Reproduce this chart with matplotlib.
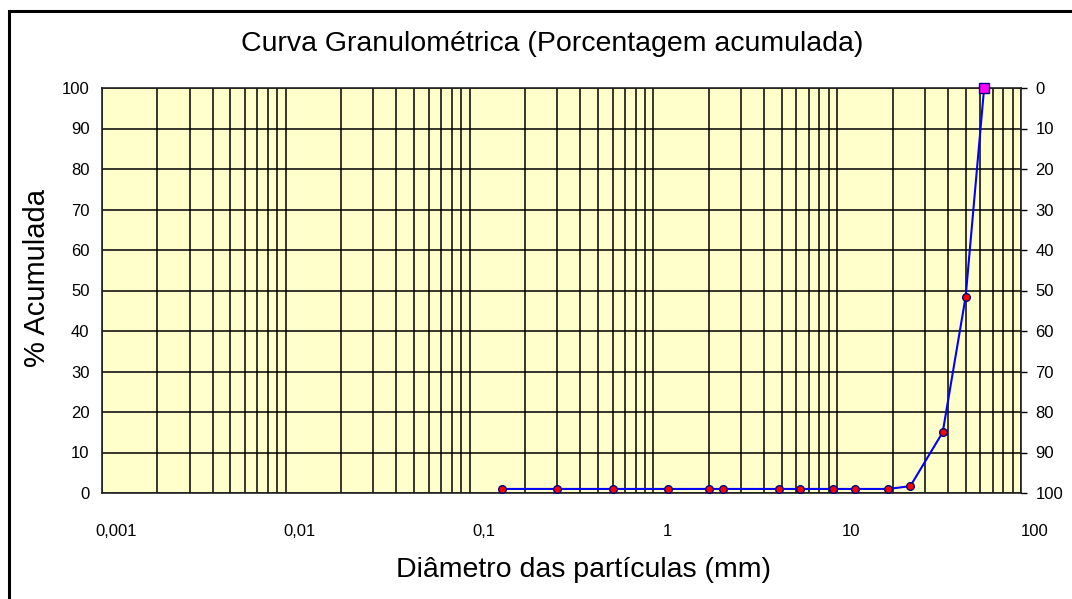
import numpy as np
import matplotlib
matplotlib.use("Agg")
import matplotlib.pyplot as plt
import matplotlib.transforms as mtransforms
from matplotlib.patches import Rectangle
from matplotlib.ticker import LogLocator, FixedLocator, NullFormatter

plt.rcParams['font.family'] = ['Liberation Sans', 'DejaVu Sans']

# peneiras (mm) e porcentagem acumulada
diametros = [0.15, 0.3, 0.6, 1.2, 2.0, 2.4, 4.8, 6.3, 9.5, 12.5, 19, 25, 37.5, 50, 63]
acumulada = [1.0, 1.0, 1.0, 1.0, 1.0, 1.0, 1.0, 1.0, 1.0, 1.0, 1.0, 1.7, 15.0, 48.5, 100.0]

x_ticks = [0.001, 0.01, 0.1, 1, 10, 100]
x_labels = ["0,001", "0,01", "0,1", "1", "10", "100"]
y_ticks = list(range(0, 101, 10))

W, H = 1072, 599
fig = plt.figure(figsize=(W / 100, H / 100), dpi=100)

# moldura do grafico
fig.add_artist(Rectangle((8.5 / W, -0.2), 2.0, 1.2 - 11.5 / H, transform=fig.transFigure,
                         fill=False, edgecolor="black", lw=2.2))

left, right, top, bottom = 102, 1021, 88, 493
ax = fig.add_axes([left / W, 1 - bottom / H, (right - left) / W, (bottom - top) / H])
ax.set_facecolor("#FFFFCC")

ax.set_xscale("log")
ax.set_xlim(0.001, 100)
ax.set_ylim(0, 100)

ax.xaxis.set_major_locator(FixedLocator(x_ticks))
ax.xaxis.set_minor_locator(LogLocator(base=10, subs=np.arange(2, 10), numticks=20))
ax.xaxis.set_minor_formatter(NullFormatter())
ax.set_xticklabels(x_labels, fontsize=12)
ax.set_yticks(y_ticks)
ax.set_yticklabels([str(v) for v in y_ticks], fontsize=12)

ax.grid(True, which="both", axis="x", color="black", lw=1.1)
ax.grid(True, which="major", axis="y", color="black", lw=1.1)
ax.set_axisbelow(True)
ax.tick_params(axis="both", which="both", length=0)
ax.tick_params(axis="x", pad=22)
ax.tick_params(axis="y", pad=9)

# rotulos do eixo x deslocados para a direita
offset = mtransforms.ScaledTranslation(14 / 100, 0, fig.dpi_scale_trans)
for lbl in ax.get_xticklabels():
    lbl.set_transform(lbl.get_transform() + offset)

for s in ax.spines.values():
    s.set_color("#222222")
    s.set_linewidth(1.2)

# eixo da direita (porcentagem retida)
ax2 = ax.twinx()
ax2.set_ylim(100, 0)
ax2.set_yticks(y_ticks)
ax2.set_yticklabels([str(v) for v in y_ticks], fontsize=12)
ax2.tick_params(axis="y", direction="out", length=4.5, width=1.0, pad=6, color="black")
for s in ax2.spines.values():
    s.set_visible(False)

ax.plot(diametros, acumulada, color="#0000FF", lw=1.5, zorder=3, clip_on=False)
ax.plot(diametros[:-1], acumulada[:-1], ls="none", marker="o", ms=5.5,
        mfc="#FF0000", mec="#000080", mew=1.0, zorder=4, clip_on=False)
ax.plot(diametros[-1:], acumulada[-1:], ls="none", marker="s", ms=6.5,
        mfc="#FF00FF", mec="#000080", mew=1.0, zorder=4, clip_on=False)

fig.text(552 / W, 1 - 44 / H, "Curva Granulométrica (Porcentagem acumulada)",
         ha="center", va="center", fontsize=20.5)
fig.text(584 / W, 1 - 570 / H, "Diâmetro das partículas (mm)",
         ha="center", va="center", fontsize=20.5)
fig.text(37 / W, 1 - 278 / H, "% Acumulada", rotation=90,
         ha="center", va="center", fontsize=21)

fig.savefig("out.png", dpi=100)
